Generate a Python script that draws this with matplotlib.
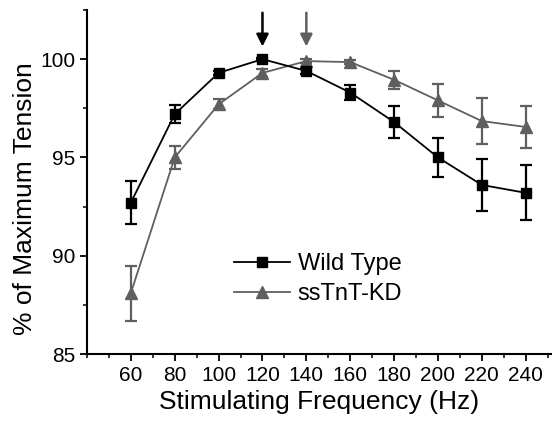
import matplotlib
matplotlib.use("Agg")
import matplotlib.pyplot as plt
from matplotlib.ticker import MultipleLocator

freq = [60, 80, 100, 120, 140, 160, 180, 200, 220, 240]
wt_mean = [92.7, 97.2, 99.3, 100.0, 99.4, 98.3, 96.8, 95.0, 93.6, 93.2]
wt_err = [1.1, 0.45, 0.1, 0.05, 0.15, 0.4, 0.8, 1.0, 1.3, 1.4]
kd_mean = [88.1, 95.0, 97.7, 99.3, 99.9, 99.85, 98.95, 97.9, 96.85, 96.55]
kd_err = [1.4, 0.6, 0.25, 0.2, 0.1, 0.1, 0.45, 0.85, 1.15, 1.05]

plt.rcParams["font.family"] = ["Liberation Sans", "DejaVu Sans"]

fig = plt.figure(figsize=(5.52, 4.24), dpi=100)
ax = fig.add_axes([87 / 552, 1 - 354 / 424, 465 / 552, 344 / 424])

gray = "#5f5f5f"
ax.errorbar(freq, wt_mean, yerr=wt_err, fmt="none", ecolor="black",
            capsize=4, elinewidth=1.6, capthick=1.6, zorder=3)
ax.errorbar(freq, kd_mean, yerr=kd_err, fmt="none", ecolor=gray,
            capsize=4, elinewidth=1.6, capthick=1.6, zorder=2)
ax.plot(freq, wt_mean, color="black", marker="s", ms=7, lw=1.3, label="Wild Type", zorder=4)
ax.plot(freq, kd_mean, color=gray, marker="^", ms=9, lw=1.3, label="ssTnT-KD", zorder=3)

# arrows marking optimum frequency
ax.annotate("", xy=(120, 100.5), xytext=(120, 102.5),
            arrowprops=dict(arrowstyle="-|>", color="black", lw=1.8, mutation_scale=18))
ax.annotate("", xy=(140, 100.5), xytext=(140, 102.5),
            arrowprops=dict(arrowstyle="-|>", color=gray, lw=1.8, mutation_scale=18))

ax.set_xlim(40, 252)
ax.set_ylim(85, 102.5)
ax.set_xticks(freq)
ax.xaxis.set_minor_locator(MultipleLocator(10))
ax.set_yticks([85, 90, 95, 100])
ax.yaxis.set_minor_locator(MultipleLocator(2.5))
ax.spines["top"].set_visible(False)
ax.spines["right"].set_visible(False)
for s in ["left", "bottom"]:
    ax.spines[s].set_linewidth(1.5)
ax.tick_params(which="major", length=5, width=1.3, labelsize=15)
ax.tick_params(which="minor", length=3, width=1.1)

ax.set_xlabel("Stimulating Frequency (Hz)", fontsize=19, labelpad=4)
ax.set_ylabel("% of Maximum Tension", fontsize=19)
ax.yaxis.set_label_coords(-0.108, 0.453)

ax.legend(loc="lower left", bbox_to_anchor=(0.27, 0.08), frameon=False, fontsize=17,
          handlelength=2.4, handletextpad=0.3, labelspacing=0.35)

fig.savefig("out.png", dpi=100)
